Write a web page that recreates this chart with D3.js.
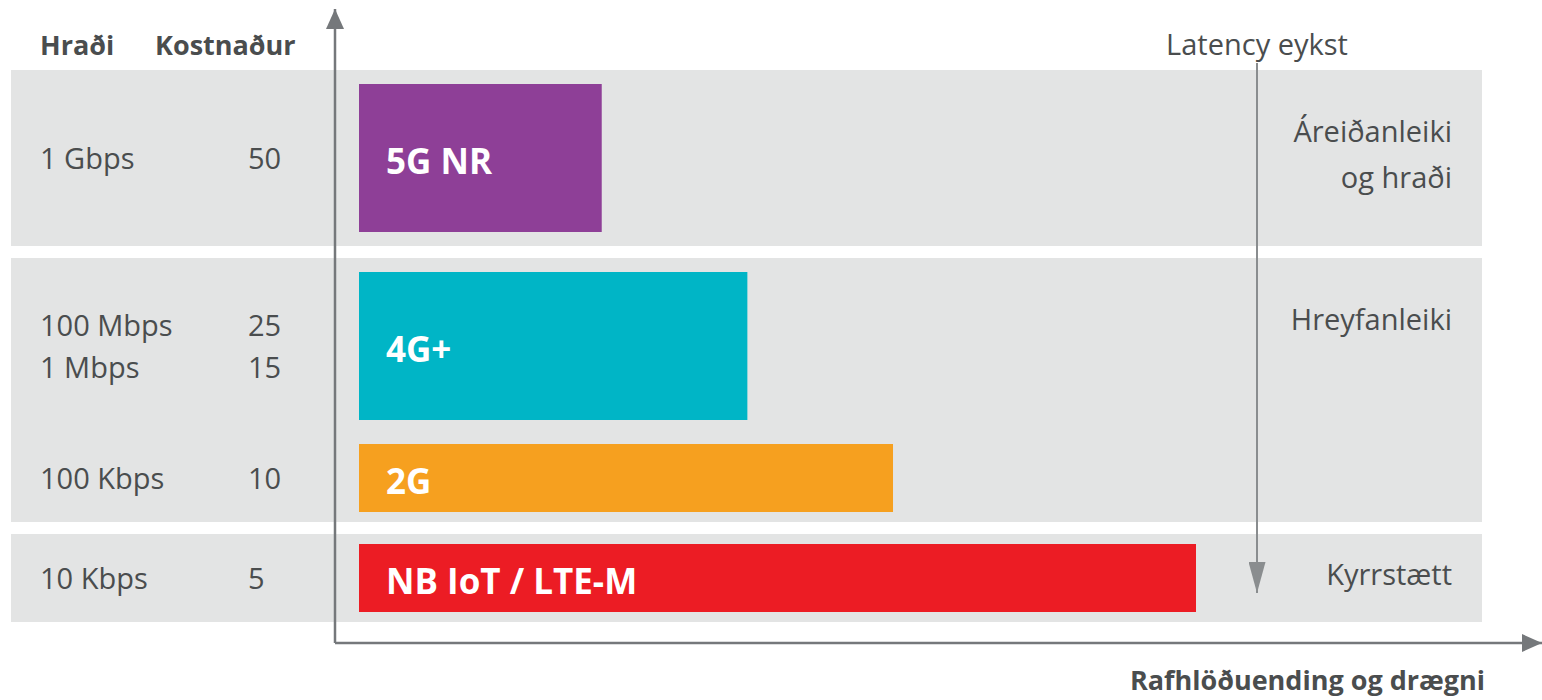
<!DOCTYPE html>
<html>
<head>
<meta charset="utf-8">
<script src="https://cdn.jsdelivr.net/npm/d3@7"></script>
<style>
  body { margin: 0; background: #fff; }
  text { font-family: "Open Sans", sans-serif; fill: #4a4d4e; }
</style>
</head>
<body>
<div id="chart"></div>
<script>
// technologies, top to bottom
let technologies = ["5G NR", "4G+", "2G", "NB IoT / LTE-M"];
// battery life & range (relative, NB IoT = 100)
let batteryRange = [29, 46.4, 63.8, 100];
let barColors = ["#8e3f97", "#00b5c6", "#f6a01f", "#ec1c24"];
let speedLabels = [["1 Gbps"], ["100 Mbps", "1 Mbps"], ["100 Kbps"], ["10 Kbps"]];
let costLabels = [["50"], ["25", "15"], ["10"], ["5"]];
let useCases = [["Áreiðanleiki", "og hraði"], ["Hreyfanleiki", ""], [], ["Kyrrstætt"]];
let groupOf = [0, 1, 1, 2];
let rowSpan = [2, 2, 1, 1];

let svgWidth = 1542;
let svgHeight = 700;

let svg = d3.select("#chart")
    .append("svg")
    .attr("width", svgWidth)
    .attr("height", svgHeight);

// slot starts for each row
let rowStart = [];
rowSpan.reduce((acc, s, i) => { rowStart[i] = acc; return acc + s; }, 0);
let totalSlots = d3.sum(rowSpan);

let groupGap = 12;
let slotH = 88;
let yScale = d3.scaleLinear()
    .domain([0, totalSlots])
    .range([70, 70 + totalSlots * slotH]);
let ySlot = (slot, g) => yScale(slot) + g * groupGap;

let xScale = d3.scaleLinear()
    .domain([0, 100])
    .range([359, 1196]);

// grey bands, one per group
let groups = d3.range(d3.max(groupOf) + 1).map(g => {
    let rows = technologies.map((t, i) => i).filter(i => groupOf[i] === g);
    let s0 = rowStart[rows[0]];
    let last = rows[rows.length - 1];
    let s1 = rowStart[last] + rowSpan[last];
    return { g: g, s0: s0, s1: s1 };
});

svg.selectAll(".band")
    .data(groups)
    .enter()
    .append("rect")
    .attr("class", "band")
    .attr("x", 11)
    .attr("width", 1482 - 11)
    .attr("y", d => ySlot(d.s0, d.g))
    .attr("height", d => yScale(d.s1) - yScale(d.s0))
    .attr("fill", "#e3e4e4");

let rows = technologies.map((t, i) => ({
    name: t,
    value: batteryRange[i],
    color: barColors[i],
    speed: speedLabels[i],
    cost: costLabels[i],
    use: useCases[i],
    span: rowSpan[i],
    top: ySlot(rowStart[i], groupOf[i]),
    h: rowSpan[i] * slotH
}));

let inset = d => d.span === 1 ? 10 : 14;
svg.selectAll(".bar")
    .data(rows)
    .enter()
    .append("rect")
    .attr("class", "bar")
    .attr("x", xScale(0))
    .attr("y", d => d.top + inset(d))
    .attr("width", d => xScale(d.value) - xScale(0))
    .attr("height", d => d.h - 2 * inset(d))
    .attr("fill", d => d.color);

svg.selectAll(".barLabel")
    .data(rows)
    .enter()
    .append("text")
    .attr("class", "barLabel")
    .attr("x", xScale(0) + 27)
    .attr("y", d => d.top + d.h / 2)
    .attr("dy", "0.45em")
    .attr("font-size", "35px")
    .attr("font-weight", "bold")
    .style("fill", "#fff")
    .text(d => d.name);

// multi-line labels centred on each row
function lineLabels(cls, key, x, anchor, lineH, dy) {
    rows.forEach((r, i) => {
        let n = r[key].length;
        r[key].forEach((txt, j) => {
            svg.append("text")
                .attr("class", cls)
                .attr("x", x)
                .attr("y", r.top + r.h / 2 + (j - (n - 1) / 2) * lineH)
                .attr("dy", dy)
                .attr("text-anchor", anchor)
                .attr("font-size", "29px")
                .text(txt);
        });
    });
}
lineLabels("speed", "speed", 40, "start", 42, "0.38em");
lineLabels("cost", "cost", 248, "start", 42, "0.38em");
lineLabels("use", "use", 1452, "end", 46, "0.25em");

// column headers
svg.append("text")
    .attr("x", 40).attr("y", 55)
    .attr("font-size", "27px").attr("font-weight", "bold")
    .text("Hraði");
svg.append("text")
    .attr("x", 155).attr("y", 55)
    .attr("font-size", "27px").attr("font-weight", "bold")
    .text("Kostnaður");

// arrow markers
let defs = svg.append("defs");
defs.append("marker")
    .attr("id", "arrowAxis")
    .attr("viewBox", "0 0 20 18")
    .attr("refX", 20).attr("refY", 9)
    .attr("markerUnits", "userSpaceOnUse")
    .attr("markerWidth", 22).attr("markerHeight", 18)
    .attr("orient", "auto")
    .append("path")
    .attr("d", "M0,0 L20,9 L0,18 Z")
    .attr("fill", "#75787b");
defs.append("marker")
    .attr("id", "arrowLatency")
    .attr("viewBox", "0 0 31 17")
    .attr("refX", 31).attr("refY", 8.5)
    .attr("markerUnits", "userSpaceOnUse")
    .attr("markerWidth", 31).attr("markerHeight", 17)
    .attr("orient", "auto")
    .append("path")
    .attr("d", "M0,0 L31,8.5 L0,17 Z")
    .attr("fill", "#8a8d8f");

let axisX = xScale(0) - 24;
let axisY = 643;

// y axis (up)
svg.append("line")
    .attr("x1", axisX).attr("y1", axisY)
    .attr("x2", axisX).attr("y2", 9)
    .attr("stroke", "#75787b").attr("stroke-width", 2.5)
    .attr("marker-end", "url(#arrowAxis)");
// x axis (right)
svg.append("line")
    .attr("x1", axisX).attr("y1", axisY)
    .attr("x2", 1542).attr("y2", axisY)
    .attr("stroke", "#75787b").attr("stroke-width", 2.5)
    .attr("marker-end", "url(#arrowAxis)");

svg.append("text")
    .attr("x", 1485).attr("y", 690)
    .attr("text-anchor", "end")
    .attr("font-size", "27px").attr("font-weight", "bold")
    .text("Rafhlöðuending og drægni");

// latency arrow
let latX = 1257;
svg.append("line")
    .attr("x1", latX).attr("y1", 63)
    .attr("x2", latX).attr("y2", 593)
    .attr("stroke", "#8a8d8f").attr("stroke-width", 2)
    .attr("marker-end", "url(#arrowLatency)");
svg.append("text")
    .attr("x", latX).attr("y", 55)
    .attr("text-anchor", "middle")
    .attr("font-size", "29px")
    .text("Latency eykst");
</script>
</body>
</html>
